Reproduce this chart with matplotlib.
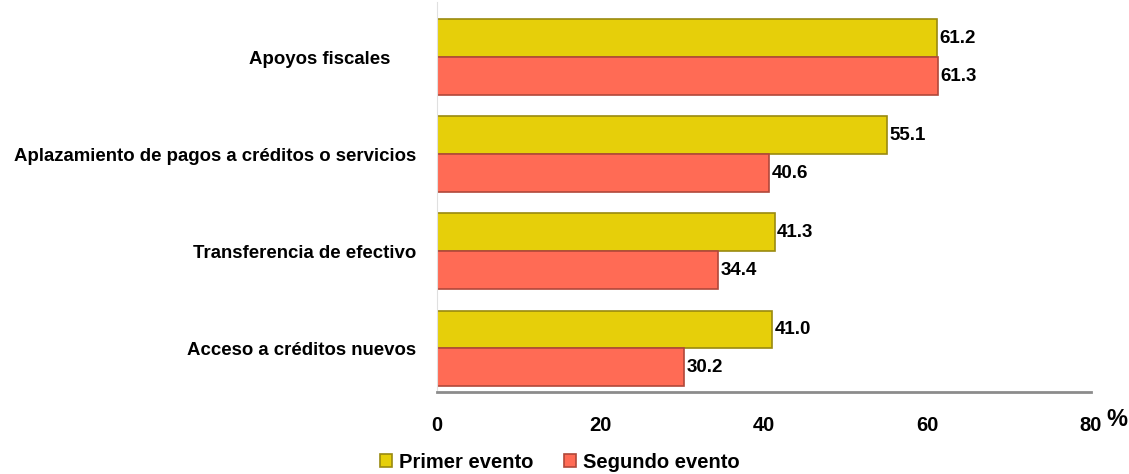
import numpy as np
import matplotlib.pyplot as plt

categorias = ["Apoyos fiscales", "Aplazamiento de pagos a créditos o servicios",
              "Transferencia de efectivo", "Acceso a créditos nuevos"]
primer = [61.2, 55.1, 41.3, 41.0]
segundo = [61.3, 40.6, 34.4, 30.2]
ticks = [0, 20, 40, 60, 80]

plt.rcParams['font.family'] = ['Liberation Sans', 'DejaVu Sans']

fig = plt.figure(figsize=(11.29, 4.74), dpi=100)
ax = fig.add_axes([437/1129, 1 - 392/474, (1091-437)/1129, 390/474])

y = np.arange(len(categorias))[::-1]
h = 0.39
b1 = ax.barh(y + h/2, primer, height=h, color='#E6CF0A', edgecolor='#9A8A10', linewidth=1.2,
             label='Primer evento')
b2 = ax.barh(y - h/2, segundo, height=h, color='#FF6B55', edgecolor='#B0483A', linewidth=1.2,
             label='Segundo evento')

for bars, vals in [(b1, primer), (b2, segundo)]:
    for bar, v in zip(bars, vals):
        ax.text(v + 0.3, bar.get_y() + bar.get_height()/2, f"{v:.1f}",
                va='center', ha='left', fontsize=13.5, fontweight='bold')

ax.set_xlim(0, 80)
ax.set_ylim(-0.45, 3.57)
ax.set_yticks(y)
labels = [c + "     " if i == 0 else c for i, c in enumerate(categorias)]
ax.set_yticklabels(labels, fontsize=13.4, fontweight='bold')
ax.set_xticks(ticks)
ax.set_xticklabels([str(t) for t in ticks], fontsize=14.5, fontweight='bold')
ax.tick_params(axis='y', length=0, pad=15)
ax.tick_params(axis='x', length=0, pad=17)

for s in ['top', 'right']:
    ax.spines[s].set_visible(False)
ax.spines['left'].set_color('#E0E0E0')
ax.spines['bottom'].set_color('#8C8C8C')
ax.spines['bottom'].set_linewidth(2)

fig.text(1106/1129, 1 - 420/474, "%", fontsize=17, fontweight='bold', va='center', ha='left')

leg = fig.legend(handles=[b1, b2], loc='center', bbox_to_anchor=(560/1129, 1 - 462/474),
                 ncol=2, frameon=False, prop={'size': 14.5, 'weight': 'bold'},
                 handlelength=0.6, handleheight=0.6, handletextpad=0.35, columnspacing=1.5)

fig.savefig("out.png", dpi=100)
